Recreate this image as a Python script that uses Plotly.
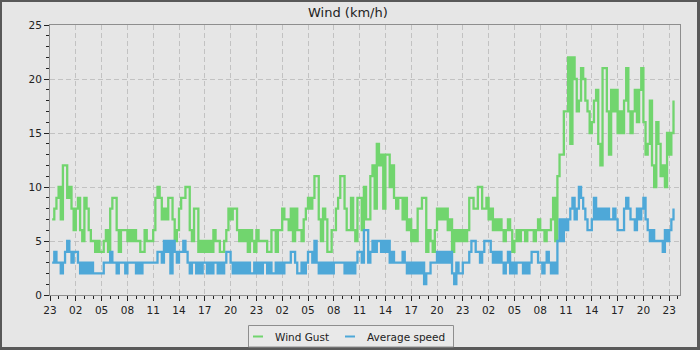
import plotly.graph_objects as go

# ---------------- data (15-minute samples, hours since 23:00 of day 1) ----------------
start_hour = 0.25
step_hours = 0.25

wind_gust = [
    7, 8, 9,            # h0 (from 23:15)
    10, 7, 12, 12,      # h1
    9, 10, 8, 6,        # h2
    8, 9, 6, 5,         # h3
    9, 8, 6, 5,         # h4
    5, 4, 5, 4,         # h5
    4, 5, 6, 4,         # h6
    8, 9, 9, 6,         # h7
    4, 6, 6, 6,         # h8
    5, 6, 5, 6,         # h9
    5, 5, 4, 4,         # h10
    6, 5, 5, 5,         # h11
    6, 9, 10, 9,        # h12
    7, 8, 7, 9,         # h13
    9, 7, 5, 6,         # h14
    8, 9, 9, 10,        # h15
    10, 6, 5, 8,        # h16
    8, 4, 5, 4,         # h17
    5, 4, 5, 4,         # h18
    6, 5, 5, 4,         # h19
    4, 5, 6, 8,         # h20
    7, 8, 8, 6,         # h21
    5, 6, 5, 6,         # h22
    4, 6, 5, 4,         # h23
    6, 5, 5, 5,         # h24
    5, 4, 4, 6,         # h25
    6, 4, 6, 6,         # h26
    8, 7, 7, 6,         # h27
    8, 5, 8, 6,         # h28
    6, 5, 7, 8,         # h29
    9, 8, 9, 11,        # h30
    11, 7, 5, 8,        # h31
    7, 4, 4, 6,         # h32
    6, 8, 9, 11,        # h33
    11, 8, 6, 6,        # h34
    9, 6, 5, 9,         # h35
    9, 6, 10, 7,        # h36
    7, 11, 12, 8,       # h37
    14, 12, 13, 8,      # h38
    13, 13, 10, 12,     # h39
    9, 8, 9, 9,         # h40
    7, 9, 6, 7,         # h41
    5, 6, 5, 8,         # h42
    8, 9, 9, 4,         # h43
    6, 5, 4, 6,         # h44
    8, 7, 8, 7,         # h45
    8, 6, 7, 4,         # h46
    6, 5, 6, 5,         # h47
    6, 5, 6, 9,         # h48
    9, 8, 8, 10,        # h49
    10, 8, 8, 9,        # h50
    7, 8, 6, 7,         # h51
    6, 7, 6, 5,         # h52
    6, 7, 6, 4,         # h53
    5, 6, 5, 6,         # h54
    6, 5, 6, 6,         # h55
    6, 5, 6, 7,         # h56
    6, 6, 5, 6,         # h57
    6, 7, 9, 5,         # h58
    11, 13, 13, 17,     # h59
    17, 22, 14, 22,     # h60
    20, 17, 18, 21,     # h61
    20, 18, 17, 15,     # h62
    16, 18, 19, 14,     # h63
    12, 21, 21, 17,     # h64
    13, 19, 17, 19,     # h65
    15, 17, 15, 18,     # h66
    21, 17, 15, 17,     # h67
    19, 16, 19, 21,     # h68
    16, 13, 14, 18,     # h69
    12, 10, 16, 14,     # h70
    11, 12, 10, 15,     # h71
    13, 15, 18,         # h72
]

average_speed = [
    3, 4, 3,            # h0
    3, 2, 3, 4,         # h1
    5, 4, 3, 4,         # h2
    4, 3, 2, 3,         # h3
    2, 3, 2, 3,         # h4
    2, 2, 2, 2,         # h5
    2, 3, 3, 3,         # h6
    4, 3, 3, 2,         # h7
    3, 3, 3, 2,         # h8
    3, 3, 3, 3,         # h9
    2, 3, 2, 3,         # h10
    3, 3, 3, 3,         # h11
    3, 3, 4, 4,         # h12
    3, 5, 4, 5,         # h13
    2, 5, 4, 3,         # h14
    4, 4, 5, 4,         # h15
    3, 2, 3, 3,         # h16
    2, 3, 2, 3,         # h17
    3, 2, 3, 2,         # h18
    3, 3, 2, 3,         # h19
    2, 3, 4, 4,         # h20
    3, 2, 3, 2,         # h21
    3, 2, 3, 2,         # h22
    3, 2, 2, 3,         # h23
    2, 3, 2, 3,         # h24
    3, 2, 3, 2,         # h25
    2, 3, 2, 3,         # h26
    2, 3, 3, 3,         # h27
    4, 4, 3, 2,         # h28
    2, 3, 2, 3,         # h29
    4, 4, 3, 5,         # h30
    3, 2, 3, 2,         # h31
    3, 2, 3, 2,         # h32
    3, 3, 3, 3,         # h33
    3, 2, 3, 2,         # h34
    3, 2, 3, 4,         # h35
    4, 3, 6, 6,         # h36
    3, 4, 5, 4,         # h37
    5, 5, 4, 5,         # h38
    4, 5, 3, 4,         # h39
    3, 3, 3, 3,         # h40
    4, 3, 2, 3,         # h41
    2, 3, 2, 3,         # h42
    2, 3, 1, 2,         # h43
    2, 3, 3, 3,         # h44
    4, 3, 4, 3,         # h45
    4, 3, 4, 2,         # h46
    1, 3, 2, 2,         # h47
    3, 3, 3, 4,         # h48
    5, 5, 4, 4,         # h49
    3, 4, 5, 5,         # h50
    5, 4, 3, 4,         # h51
    3, 4, 3, 2,         # h52
    3, 4, 2, 3,         # h53
    2, 3, 3, 3,         # h54
    2, 3, 2, 3,         # h55
    4, 4, 4, 3,         # h56
    3, 2, 3, 4,         # h57
    3, 2, 3, 2,         # h58
    5, 7, 5, 7,         # h59
    6, 7, 8, 9,         # h60
    7, 8, 10, 9,        # h61
    8, 7, 6, 6,         # h62
    7, 9, 7, 8,         # h63
    7, 8, 7, 8,         # h64
    7, 7, 8, 7,         # h65
    6, 6, 6, 8,         # h66
    9, 8, 7, 7,         # h67
    6, 8, 7, 8,         # h68
    9, 7, 6, 5,         # h69
    6, 5, 5, 5,         # h70
    5, 4, 6, 5,         # h71
    6, 7, 8,            # h72
]

tick_hours = [0, 3, 6, 9, 12, 15, 18, 21, 24, 27, 30, 33, 36, 39, 42, 45, 48, 51, 54, 57, 60, 63, 66, 69, 72]
tick_labels = ["23", "02", "05", "08", "11", "14", "17", "20",
               "23", "02", "05", "08", "11", "14", "17", "20",
               "23", "02", "05", "08", "11", "14", "17", "20", "23"]

series_names = ["Wind Gust", "Average speed"]
series_colors = ["#71d56e", "#4ea8d8"]

times_g = [start_hour + step_hours * i for i in range(len(wind_gust))]
times_a = [start_hour + step_hours * i for i in range(len(average_speed))]

# ---------------- layout geometry ----------------
W, H = 700, 350
ML, MR, MT, MB = 50, 20, 25, 55
PW, PH = W - ML - MR, H - MT - MB
BG = "#e6e6e6"
FONT = "DejaVu Sans"


def px(x):
    return (x - ML) / PW


def py(y):
    return (H - MB - y) / PH


fig = go.Figure()
fig.add_trace(go.Scatter(x=times_g, y=wind_gust, mode="lines", line_shape="hv",
                         line=dict(color=series_colors[0], width=2.3), name=series_names[0]))
fig.add_trace(go.Scatter(x=times_a, y=average_speed, mode="lines", line_shape="hv",
                         line=dict(color=series_colors[1], width=2.3), name=series_names[1]))

axis_common = dict(
    showline=True, linecolor="#8e8e8e", linewidth=1, mirror=True,
    ticks="outside", ticklen=5, tickwidth=1, tickcolor="#222222",
    showgrid=True, gridcolor="#c2c2c2", gridwidth=1, griddash="5px,3px",
    zeroline=False, tickfont=dict(family=FONT, size=10.5, color="#222222"),
)

fig.update_xaxes(range=[0, PW / 8.6], tickmode="array", tickvals=tick_hours, ticktext=tick_labels,
                 minor=dict(tickmode="linear", tick0=0, dtick=1, ticklen=3, tickcolor="#222222",
                            ticks="outside", showgrid=False),
                 **axis_common)
fig.update_yaxes(range=[0, 25], tickmode="linear", tick0=0, dtick=5,
                 minor=dict(tickmode="linear", tick0=0, dtick=1, ticklen=3, tickcolor="#222222",
                            ticks="outside", showgrid=False),
                 **axis_common)

shapes = []
# outer dark frame
frame = "#595959"
for (x0, x1, y0, y1) in [(0, 2, 0, H), (W - 3, W, 0, H), (0, W, 0, 2), (0, W, H - 3, H)]:
    shapes.append(dict(type="rect", xref="paper", yref="paper", x0=px(x0), x1=px(x1),
                       y0=py(y1), y1=py(y0), fillcolor=frame, line=dict(width=0), layer="above"))
# legend box
shapes.append(dict(type="rect", xref="paper", yref="paper", x0=px(248.5), x1=px(453.5),
                   y0=py(347), y1=py(325.5), fillcolor="#e9e9e9",
                   line=dict(color="#8e8e8e", width=1), layer="above"))
legend_items = [(253, 273), (345, 365)]
annotations = []
for (sx, tx), name, col in zip(legend_items, series_names, series_colors):
    shapes.append(dict(type="line", xref="paper", yref="paper", x0=px(sx), x1=px(sx + 10),
                       y0=py(336.5), y1=py(336.5), line=dict(color=col, width=2), layer="above"))
    annotations.append(dict(xref="paper", yref="paper", x=px(tx), y=py(336.5), text=name,
                            showarrow=False, xanchor="left", yanchor="middle",
                            font=dict(family=FONT, size=10.5, color="#222222")))

fig.update_layout(
    width=W, height=H, margin=dict(l=ML, r=MR, t=MT, b=MB),
    paper_bgcolor=BG, plot_bgcolor=BG, showlegend=False,
    title=dict(text="Wind (km/h)", xref="container", yref="container", x=0.497, y=1 - 12 / H,
               xanchor="center", yanchor="middle", font=dict(family=FONT, size=13, color="#222222")),
    shapes=shapes, annotations=annotations,
)

fig.write_html("out.html")
